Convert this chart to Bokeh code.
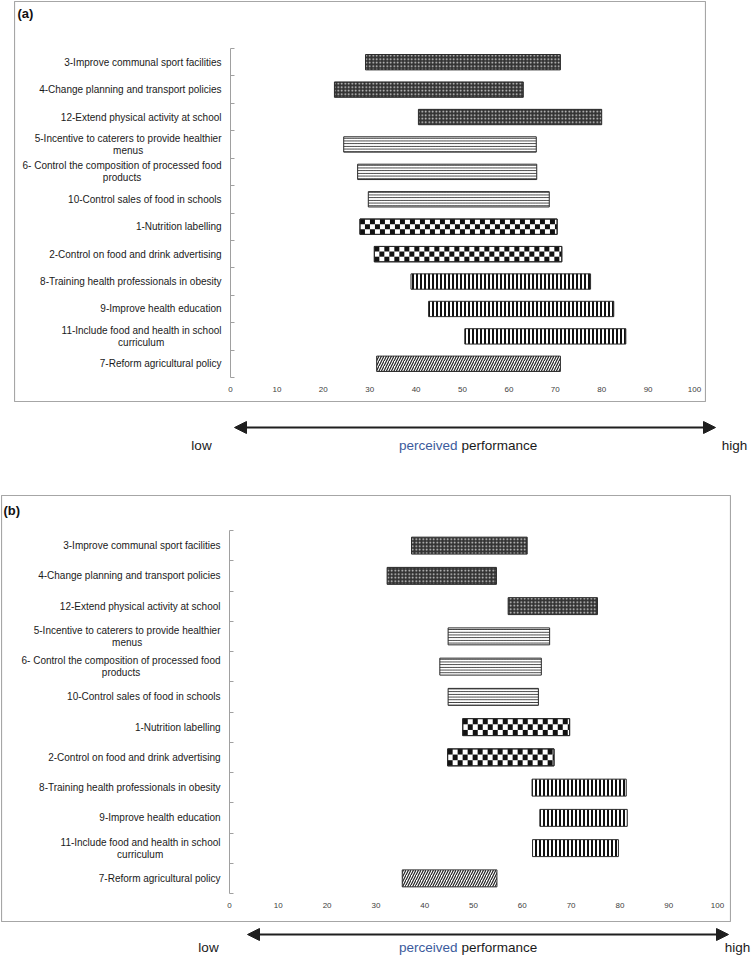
import math
from bokeh.plotting import figure
from bokeh.models import (Range1d, FixedTicker, Label, Arrow, NormalHead, LinearAxis,
                          ColumnDataSource)
from bokeh.layouts import column
from bokeh.embed import file_html
from bokeh.resources import INLINE
from bokeh.core.properties import value

FONT = "Liberation Sans"

# ---------------- data ----------------
categories = [
    "3-Improve communal sport facilities",
    "4-Change planning and transport policies",
    "12-Extend physical activity at school",
    "5-Incentive to caterers to provide healthier\nmenus",
    "6- Control the composition of processed food\nproducts",
    "10-Control sales of food in schools",
    "1-Nutrition labelling",
    "2-Control on food and drink advertising",
    "8-Training health professionals in obesity",
    "9-Improve health education",
    "11-Include food and health in school\ncurriculum",
    "7-Reform agricultural policy",
]
groups = ["dots", "dots", "dots", "hlines", "hlines", "hlines",
          "checker", "checker", "vlines", "vlines", "vlines", "diag"]

a_low = [29.1, 22.4, 40.5, 24.4, 27.4, 29.7, 27.9, 31.0, 38.9, 42.7, 50.5, 31.5]
a_high = [71.1, 63.1, 80.0, 65.9, 66.0, 68.7, 70.4, 71.4, 77.6, 82.6, 85.2, 71.1]

b_low = [37.3, 32.3, 57.1, 44.8, 43.1, 44.8, 47.8, 44.7, 62.0, 63.6, 62.1, 35.4]
b_high = [61.0, 54.7, 75.4, 65.6, 63.9, 63.3, 69.7, 66.5, 81.3, 81.5, 79.7, 54.8]

x_ticks = [0, 10, 20, 30, 40, 50, 60, 70, 80, 90, 100]

# ---------------- helpers ----------------
ARIAL_W = {" ": 278, "-": 333, "(": 333, ")": 333, "I": 278, "C": 722, "E": 667, "P": 667,
           "N": 722, "T": 611, "R": 722, "a": 556, "b": 556, "c": 500, "d": 556, "e": 556,
           "f": 278, "g": 556, "h": 556, "i": 222, "j": 222, "k": 500, "l": 222, "m": 833,
           "n": 556, "o": 556, "p": 556, "q": 556, "r": 333, "s": 500, "t": 278, "u": 556,
           "v": 500, "w": 722, "x": 500, "y": 500, "z": 500}


def text_width(s, size_px):
    return sum(ARIAL_W.get(ch, 556) for ch in s) / 1000.0 * size_px


def pattern_kwargs(g):
    if g == "dots":
        return dict(fill_color="#333333", hatch_pattern="dot", hatch_color="#d9d9d9",
                    hatch_scale=3.5, hatch_weight=1)
    if g == "hlines":
        return dict(fill_color="white", hatch_pattern="horizontal_line", hatch_color="#1e1e1e",
                    hatch_scale=2.7, hatch_weight=0.9)
    if g == "checker":
        return dict(fill_color="white")
    if g == "vlines":
        return dict(fill_color="white", hatch_pattern="vertical_line", hatch_color="#111111",
                    hatch_scale=4, hatch_weight=2)
    return dict(fill_color="white", hatch_pattern="right_diagonal_line", hatch_color="#222222",
                hatch_scale=5, hatch_weight=1.2)


def make_panel(tag, lows, highs, box, x_px, y_px, tag_px, margin):
    """box = (left, top, right, bottom) page px of the framed panel;
    x_px = page px of value 0 and 100; y_px = page px of category block top/bottom."""
    n = len(categories)
    bl, bt, br, bb = box
    W, H = br - bl, bb - bt
    ppx = (x_px[1] - x_px[0]) / 100.0
    ppy = (y_px[1] - y_px[0]) / float(n)
    xr = Range1d((bl - x_px[0]) / ppx, (br - x_px[0]) / ppx)
    yr = Range1d((bb - y_px[0]) / ppy, (bt - y_px[0]) / ppy)

    p = figure(width=W, height=H, x_range=xr, y_range=yr, output_backend="svg",
               toolbar_location=None, x_axis_location=None, y_axis_location=None,
               min_border=0, margin=margin,
               background_fill_color="white", border_fill_color="white")
    p.title.visible = False
    p.outline_line_color = "#a6a6a6"
    p.outline_line_width = 1.2
    p.grid.visible = False

    centers = [i + 0.5 for i in range(n)]
    bounds = list(range(n + 1))
    bar_h = 0.56

    order = []
    for g in groups:
        if g not in order:
            order.append(g)
    for g in order:
        idx = [i for i, gg in enumerate(groups) if gg == g]
        src = ColumnDataSource(dict(y=[centers[i] for i in idx],
                                    left=[lows[i] for i in idx],
                                    right=[highs[i] for i in idx]))
        p.hbar(y="y", left="left", right="right", height=bar_h, source=src,
               line_color="#2a2a2a", line_width=1, **pattern_kwargs(g))
        if g == "checker":
            cw = 5.0 / ppx
            qs = dict(left=[], right=[], top=[], bottom=[])
            for i in idx:
                ncol = int(math.ceil((highs[i] - lows[i]) / cw))
                for c in range(ncol):
                    for r in range(3):
                        if (c + r) % 2 == 0:
                            qs["left"].append(lows[i] + c * cw)
                            qs["right"].append(min(lows[i] + (c + 1) * cw, highs[i]))
                            y0 = centers[i] - bar_h / 2 + r * bar_h / 3
                            qs["bottom"].append(y0)
                            qs["top"].append(y0 + bar_h / 3)
            p.quad(source=ColumnDataSource(qs), left="left", right="right", top="top",
                   bottom="bottom", fill_color="#111111", line_color=None)
            p.hbar(y="y", left="left", right="right", height=bar_h, source=src,
                   fill_color=None, line_color="#2a2a2a", line_width=1)

    # x axis (tick labels only)
    xa = LinearAxis(fixed_location=n, bounds=(0, 100), ticker=FixedTicker(ticks=x_ticks))
    xa.axis_line_color = None
    xa.major_tick_line_color = None
    xa.minor_tick_line_color = None
    xa.major_tick_in = 0
    xa.major_tick_out = 0
    xa.major_label_text_font = FONT
    xa.major_label_text_font_size = "8px"
    xa.major_label_text_color = "#404040"
    xa.major_label_standoff = 9
    p.add_layout(xa, "below")

    # y axis (line with ticks between categories)
    ya = LinearAxis(fixed_location=0, bounds=(0, n), ticker=FixedTicker(ticks=bounds))
    ya.major_label_overrides = {b: "" for b in bounds}
    ya.axis_line_color = "#a0a0a0"
    ya.major_tick_line_color = "#a0a0a0"
    ya.major_tick_in = 4
    ya.major_tick_out = 0
    ya.minor_tick_line_color = None
    p.add_layout(ya, "left")

    # category labels
    stand = 9.0 / ppx
    fs = 10
    r_x, r_y, r_t, c_x, c_y, c_t = [], [], [], [], [], []
    for i, cat in enumerate(categories):
        lines = cat.split("\n")
        if len(lines) == 1:
            r_x.append(-stand); r_y.append(centers[i]); r_t.append(lines[0])
        else:
            r_x.append(-stand); r_y.append(centers[i] - 6.0 / ppy); r_t.append(lines[0])
            w1 = text_width(lines[0], fs) / ppx
            c_x.append(-stand - w1 / 2); c_y.append(centers[i] + 6.0 / ppy); c_t.append(lines[1])
    common = dict(text_font=value(FONT), text_font_size=value("%dpx" % fs),
                  text_color="#1a1a1a", text_baseline="middle")
    p.text(x=r_x, y=r_y, text=r_t, text_align="right", **common)
    p.text(x=c_x, y=c_y, text=c_t, text_align="center", **common)

    # panel tag
    p.add_layout(Label(x=(tag_px[0] - x_px[0]) / ppx, y=(tag_px[1] - y_px[0]) / ppy, text=tag,
                       text_font=FONT, text_font_size="13px", text_font_style="bold",
                       text_color="#111111", text_align="left", text_baseline="middle"))
    return p


def make_arrow_row(top, height, arrow_y, text_y, x0, x1, low_x, high_x, mid_x):
    # all positions in page px; canvas spans the full page width
    W = 751
    p = figure(width=W, height=height, x_range=Range1d(0, W),
               y_range=Range1d(top + height, top), output_backend="svg",
               toolbar_location=None, min_border=0,
               x_axis_location=None, y_axis_location=None,
               background_fill_color="white", border_fill_color="white")
    p.title.visible = False
    p.outline_line_color = None
    p.grid.visible = False

    def head():
        return NormalHead(size=12, fill_color="#1f1f1f", line_color="#1f1f1f")

    p.add_layout(Arrow(start=head(), end=head(), x_start=x0, x_end=x1,
                       y_start=arrow_y, y_end=arrow_y, line_width=2.2, line_color="#1f1f1f"))
    for txt, x, align, color in [("low", low_x, "center", "#1a1a1a"),
                                 ("high", high_x, "center", "#1a1a1a"),
                                 ("perceived", mid_x - 2, "right", "#3b5b9c"),
                                 ("performance", mid_x + 2, "left", "#1a1a1a")]:
        p.add_layout(Label(x=x, y=text_y, text=txt, text_align=align, text_baseline="middle",
                           text_font=FONT, text_font_size="13.5px", text_color=color))
    return p


fig_a = make_panel("(a)", a_low, a_high, box=(14, 1, 706, 402), x_px=(230, 694),
                   y_px=(48, 377), tag_px=(17, 13), margin=(1, 0, 0, 14))
arrow_a = make_arrow_row(402, 93, 427, 445, 234, 715, 201, 734, 459)
fig_b = make_panel("(b)", b_low, b_high, box=(1, 495, 731, 922), x_px=(229, 717),
                   y_px=(530, 893), tag_px=(3, 510), margin=(0, 0, 0, 1))
arrow_b = make_arrow_row(922, 45, 934, 947, 247, 728, 208, 737, 459)

layout = column(fig_a, arrow_a, fig_b, arrow_b, spacing=0)

open("out.html", "w").write(file_html(layout, INLINE))
